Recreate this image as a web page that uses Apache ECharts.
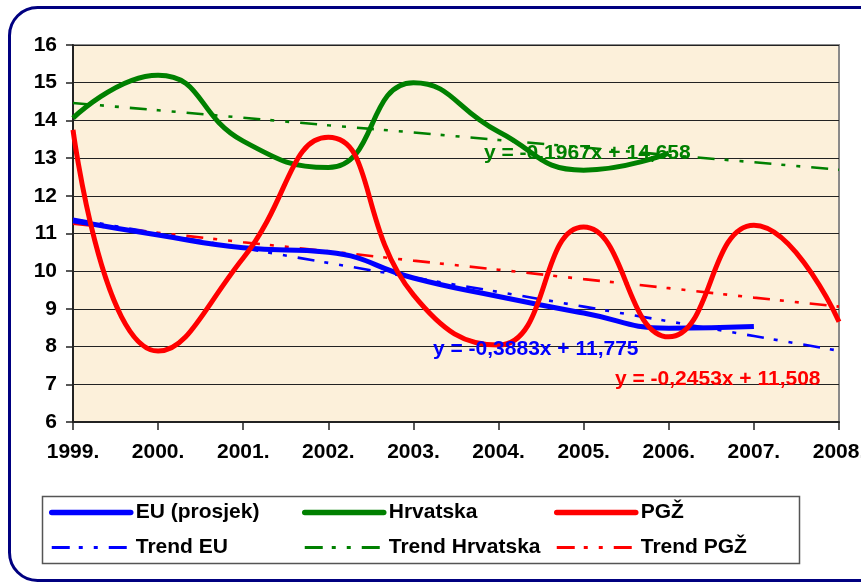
<!DOCTYPE html>
<html>
<head>
<meta charset="utf-8">
<script src="https://cdn.jsdelivr.net/npm/echarts@6/dist/echarts.min.js"></script>
<style>
	html, body { margin: 0; padding: 0; background: #fff; }
	#chart { width: 861px; height: 583px; }
</style>
</head>
<body>
<div id="chart"></div>
<script>
// godine na osi x
const years = ['1999.', '2000.', '2001.', '2002.', '2003.', '2004.', '2005.', '2006.', '2007.', '2008.'];

// glavne serije (očitano sa slike)
const euAvg = [11.34, 10.96, 10.62, 10.5, 9.82, 9.33, 8.89, 8.49, 8.53, null];
const croatia = [14.06, 15.2, 13.45, 12.75, 15.0, 13.7, 12.68, 13.13, null, null];
const pgz = [13.75, 7.88, 10.35, 13.55, 9.37, 8.04, 11.17, 8.26, 11.22, 8.66];

// linije trenda
const trendEU = [11.39, 11.0, 10.61, 10.22, 9.83, 9.45, 9.06, 8.67, 8.28, 7.89];
const trendCroatia = [14.46, 14.27, 14.07, 13.87, 13.68, 13.48, 13.28, 13.08, 12.89, 12.69];
const trendPgz = [11.26, 11.02, 10.77, 10.53, 10.28, 10.04, 9.79, 9.55, 9.30, 9.06];

// jednadžbe trenda
const eqCroatia = 'y = -0,1967x + 14,658';
const eqEU = 'y = -0,3883x + 11,775';
const eqPgz = 'y = -0,2453x + 11,508';

const myChart = echarts.init(document.getElementById('chart'));

const font = 'Arial, "Liberation Sans", sans-serif';
const dashDot = [17, 10, 4, 11, 4, 11];
const legendDash = [18, 9, 4, 11, 4, 11];

function mainLine(name, data, color) {
	return {
		name: name, type: 'line', data: data, smooth: 0.5,
		symbol: 'none', connectNulls: false,
		lineStyle: { color: color, width: 5 },
		itemStyle: { color: color },
		z: 3
	};
}
function trendLine(name, data, color) {
	return {
		name: name, type: 'line', data: data,
		symbol: 'none',
		lineStyle: { color: color, width: 2.6, type: dashDot },
		itemStyle: { color: color },
		z: 2
	};
}
function legendCol(left, mainName, trendName) {
	return {
		orient: 'vertical', left: left, top: 502,
		padding: 0, itemGap: 14, itemWidth: 79, itemHeight: 14,
		itemStyle: { opacity: 0 },
		data: [
			{ name: mainName, lineStyle: { width: 5.5, cap: 'round' } },
			{ name: trendName, lineStyle: { width: 3, type: legendDash } }
		],
		textStyle: { fontFamily: font, fontWeight: 'bold', fontSize: 21, color: '#000' }
	};
}

let option = {
	backgroundColor: '#fff',
	animation: false,
	grid: {
		left: 73, right: 22, top: 45, bottom: 161,
		containLabel: false, outerBoundsMode: 'none',
		show: true, backgroundColor: '#FCF0DA',
		borderColor: '#8a8a8a', borderWidth: 2
	},
	xAxis: {
		type: 'category', data: years, boundaryGap: false,
		axisLine: { lineStyle: { color: '#222', width: 2 } },
		axisTick: { show: true, length: 8, lineStyle: { color: '#222', width: 1.5 } },
		axisLabel: { margin: 20, fontFamily: font, fontWeight: 'bold', fontSize: 21, color: '#000', hideOverlap: false },
		splitLine: { show: false }
	},
	yAxis: {
		type: 'value', min: 6, max: 16, interval: 1,
		axisLine: { show: true, lineStyle: { color: '#222', width: 2 } },
		axisTick: { show: true, length: 7, lineStyle: { color: '#222', width: 1.5 } },
		axisLabel: { margin: 16, fontFamily: font, fontWeight: 'bold', fontSize: 21, color: '#000' },
		splitLine: { lineStyle: { color: '#222', width: 1 } }
	},
	legend: [
		legendCol(49, 'EU (prosjek)', 'Trend EU'),
		legendCol(302, 'Hrvatska', 'Trend Hrvatska'),
		legendCol(554, 'PGŽ', 'Trend PGŽ')
	],
	series: [
		trendLine('Trend EU', trendEU, '#0000FF'),
		trendLine('Trend Hrvatska', trendCroatia, '#008000'),
		trendLine('Trend PGŽ', trendPgz, '#FF0000'),
		mainLine('EU (prosjek)', euAvg, '#0000FF'),
		mainLine('Hrvatska', croatia, '#008000'),
		mainLine('PGŽ', pgz, '#FF0000')
	],
	graphic: [
		{ type: 'rect', z: -10, silent: true,
			shape: { x: 9.5, y: 7.5, width: 880, height: 573, r: 28 },
			style: { fill: 'none', stroke: '#000080', lineWidth: 3 } },
		{ type: 'rect', z: -5, silent: true,
			shape: { x: 42.5, y: 496.5, width: 757, height: 67 },
			style: { fill: '#fff', stroke: '#555', lineWidth: 1.5 } },
		{ type: 'text', z: 100, left: 484, top: 143,
			style: { text: eqCroatia, fill: '#008000', font: 'bold 21px ' + font } },
		{ type: 'text', z: 100, left: 433, top: 339,
			style: { text: eqEU, fill: '#0000FF', font: 'bold 21px ' + font } },
		{ type: 'text', z: 100, left: 615, top: 369,
			style: { text: eqPgz, fill: '#FF0000', font: 'bold 21px ' + font } }
	]
};

myChart.setOption(option);
</script>
</body>
</html>
